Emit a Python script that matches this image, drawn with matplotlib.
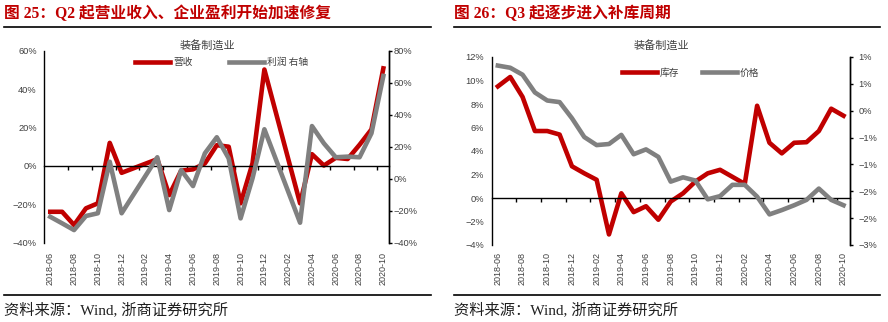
import numpy as np
import matplotlib
matplotlib.use('Agg')
from matplotlib import pyplot as plt
from matplotlib import transforms
from matplotlib.lines import Line2D
from matplotlib.ticker import FixedLocator, FuncFormatter

# categorías (meses)
months = ['2018-06', '2018-07', '2018-08', '2018-09', '2018-10', '2018-11', '2018-12',
          '2019-01', '2019-02', '2019-03', '2019-04', '2019-05', '2019-06', '2019-07',
          '2019-08', '2019-09', '2019-10', '2019-11', '2019-12', '2020-01', '2020-02',
          '2020-03', '2020-04', '2020-05', '2020-06', '2020-07', '2020-08', '2020-09',
          '2020-10']

nan = np.nan
# 图25: 营收 (eje izq), 利润 (eje der)
revenue = [-23.9, -23.9, -30.8, -22.1, -19.5, 12.0, -3.6, nan, nan, 3.5, -15.2, -2.5,
           -1.8, 1.3, 10.8, 10.0, -19.5, 1.3, 50.2, nan, nan, -19.5, 6.1, 0.2, 4.2,
           3.6, 11.0, 19.0, 50.8]
profit = [-23.8, -27.9, -32.1, -23.3, -21.6, 10.6, -21.6, nan, nan, 13.4, -19.6, 5.4,
          -4.6, 15.9, 25.9, 12.7, -24.8, 0.2, 30.9, nan, nan, -27.5, 32.9, 22.1, 13.4,
          13.8, 13.4, 28.4, 64.2]

# 图26: 库存 (eje izq), 价格 (eje der)
inventory = [9.5, 10.3, 8.6, 5.7, 5.7, 5.4, 2.7, 2.1, 1.55, -3.1, 0.4, -1.2, -0.7,
             -1.85, -0.3, 0.4, 1.4, 2.1, 2.4, 1.8, 1.2, 7.85, 4.7, 3.8, 4.7, 4.75,
             5.7, 7.6, 7.0]
price = [0.84, 0.80, 0.67, 0.34, 0.19, 0.16, -0.14, -0.49, -0.64, -0.62, -0.45, -0.81,
         -0.72, -0.86, -1.32, -1.24, -1.30, -1.65, -1.59, -1.38, -1.38, -1.60, -1.93,
         -1.85, -1.76, -1.66, -1.45, -1.66, -1.76]

RED = '#C00000'
GRAY = '#808080'
TXT = '#404040'
CJK = ['Noto Sans CJK SC', 'DejaVu Sans']
SERIF = ['Liberation Serif', 'Noto Sans CJK SC']
LW = 3.3

plt.rcParams['font.family'] = ['Liberation Sans', 'Noto Sans CJK SC']

fig = plt.figure(figsize=(8.88, 3.22), dpi=100)
W, H = 888.0, 322.0


def rect(x0, y0, x1, y1):
    # píxeles -> fracción de figura
    return [x0 / W, 1 - y1 / H, (x1 - x0) / W, (y1 - y0) / H]


def minus(s):
    return s.replace('-', '\u2212')


def pct(v, pos):
    return minus('%d%%' % int(round(v)))


def pct_excel(v, pos):
    r = int(np.floor(abs(v) + 0.5 + 1e-9)) * (1 if v >= 0 else -1)
    return minus('%d%%' % r)


def series(values):
    x = np.arange(len(months))
    y = np.array(values, dtype=float)
    ok = ~np.isnan(y)
    return x[ok], y[ok]


def decorate(ax, ax2, lab_gap, rpad):
    n = len(months)
    ax.set_xlim(-0.5, n - 0.5)
    ax.spines['top'].set_visible(False)
    for s in ['top', 'bottom', 'left']:
        ax2.spines[s].set_visible(False)
    ax.spines['bottom'].set_position(('data', 0))
    ax.xaxis.set_major_locator(FixedLocator(np.arange(1.5, n, 2)))
    ax.tick_params(axis='x', direction='out', length=3, width=1, labelbottom=False)
    ax.tick_params(axis='y', length=0, pad=5.5, labelsize=6.7, labelcolor=TXT)
    ax2.tick_params(axis='y', direction='out', length=2.2, width=1, pad=rpad,
                    labelsize=6.7, labelcolor=TXT)
    for a in (ax, ax2):
        for s in a.spines.values():
            s.set_linewidth(1)
            s.set_color('black')
    tr = transforms.blended_transform_factory(ax.transData, ax.transAxes)
    for i in range(0, n, 2):
        ax.text(i, -lab_gap, months[i], transform=tr, rotation=90, ha='center',
                va='top', fontsize=6.5, color=TXT)


def header(x0, x1, title):
    fig.text(x0 / W, 1 - 14 / H, title, fontsize=11.3, fontweight='bold', color=RED,
             family=SERIF, va='center')
    fig.add_artist(Line2D([x0 / W, x1 / W], [1 - 27 / H] * 2, color='black', lw=1.2))
    fig.add_artist(Line2D([x0 / W, x1 / W], [1 - 295 / H] * 2, color='black', lw=1.2))
    fig.text(x0 / W, 1 - 310 / H, '资料来源：Wind, 浙商证券研究所', fontsize=11,
             color='#202020', family=SERIF, va='center')


def chart_left():
    ax = fig.add_axes(rect(44.3, 50.7, 389.3, 242.7))
    ax2 = ax.twinx()
    l1, = ax.plot(*series(revenue), color=RED, lw=LW, solid_joinstyle='round')
    l2, = ax2.plot(*series(profit), color=GRAY, lw=LW, solid_joinstyle='round')
    ax.set_ylim(-40, 60)
    ax.yaxis.set_major_locator(FixedLocator(np.arange(-40, 61, 20)))
    ax.yaxis.set_major_formatter(FuncFormatter(pct))
    ax2.set_ylim(-40, 80)
    ax2.yaxis.set_major_locator(FixedLocator(np.arange(-40, 81, 20)))
    ax2.yaxis.set_major_formatter(FuncFormatter(pct))
    decorate(ax, ax2, 0.047, 1.0)
    fig.text(207 / W, 1 - 45 / H, '装备制造业', fontsize=8, color=TXT, family=CJK,
             ha='center', va='center')
    fig.legend([l1, l2], ['营收', '利润 右轴'], loc='center left',
               bbox_to_anchor=(135 / W, 1 - 62.5 / H), ncol=2, frameon=False,
               prop={'family': CJK, 'size': 7}, labelcolor=TXT, handlelength=3.6,
               handletextpad=0.3, columnspacing=3.8, borderpad=0, borderaxespad=0)
    header(4, 431, '图 25：Q2 起营业收入、企业盈利开始加速修复')


def chart_right():
    ax = fig.add_axes(rect(491.7, 57, 849.7, 245))
    ax2 = ax.twinx()
    l1, = ax.plot(*series(inventory), color=RED, lw=LW, solid_joinstyle='round')
    l2, = ax2.plot(*series(price), color=GRAY, lw=LW, solid_joinstyle='round')
    ax.set_ylim(-4, 12)
    ax.yaxis.set_major_locator(FixedLocator(np.arange(-4, 13, 2)))
    ax.yaxis.set_major_formatter(FuncFormatter(pct))
    ax2.set_ylim(-2.5, 1.0)
    ax2.yaxis.set_major_locator(FixedLocator(np.arange(-2.5, 1.01, 0.5)))
    ax2.yaxis.set_major_formatter(FuncFormatter(pct_excel))
    decorate(ax, ax2, 0.035, 4.0)
    fig.text(661 / W, 1 - 45 / H, '装备制造业', fontsize=8, color=TXT, family=CJK,
             ha='center', va='center')
    fig.legend([l1, l2], ['库存', '价格'], loc='center left',
               bbox_to_anchor=(622 / W, 1 - 72.7 / H), ncol=2, frameon=False,
               prop={'family': CJK, 'size': 7}, labelcolor=TXT, handlelength=3.6,
               handletextpad=0.3, columnspacing=2.3, borderpad=0, borderaxespad=0)
    header(454, 880, '图 26：Q3 起逐步进入补库周期')


chart_left()
chart_right()
fig.savefig('out.png', dpi=100)
